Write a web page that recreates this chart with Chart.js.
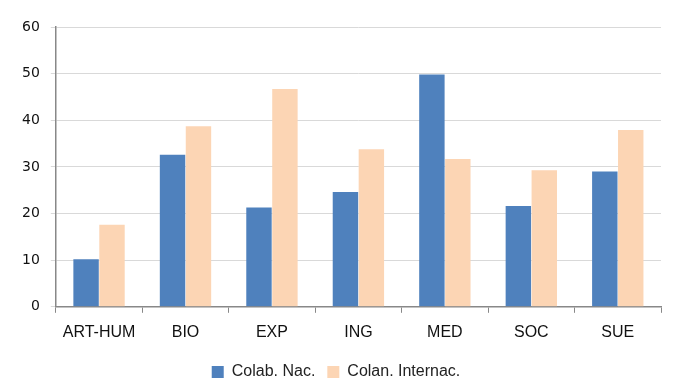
<!DOCTYPE html>
<html>
<head>
<meta charset="utf-8">
<script src="https://cdn.jsdelivr.net/npm/chart.js@4"></script>
<style>
  html, body { margin: 0; padding: 0; background: #fff; }
  #wrap { width: 679px; height: 390px; }
</style>
</head>
<body>
<div id="wrap"><canvas id="grafica"></canvas></div>
<script>
// datos
const areas = ['ART-HUM', 'BIO', 'EXP', 'ING', 'MED', 'SOC', 'SUE'];
const colabNac = [10.2, 32.6, 21.3, 24.6, 49.8, 21.6, 29.0];
const colabInternac = [17.6, 38.7, 46.7, 33.8, 31.7, 29.3, 37.9];
const ticksY = [0, 10, 20, 30, 40, 50, 60];

const ctx = document.getElementById('grafica');
const myChart = new Chart(ctx, {
  type: 'bar',
  data: {
    labels: areas,
    datasets: [{
      label: 'Colab. Nac.',
      data: colabNac,
      backgroundColor: '#4f81bd',
      categoryPercentage: 0.6,
      barPercentage: 0.98
    }, {
      label: 'Colan. Internac.',
      data: colabInternac,
      backgroundColor: '#fcd5b4',
      categoryPercentage: 0.6,
      barPercentage: 0.98
    }]
  },
  options: {
    responsive: true,
    maintainAspectRatio: false,
    animation: false,
    layout: { padding: { left: 11, right: 18, top: 27, bottom: 0 } },
    plugins: {
      tooltip: { enabled: false },
      legend: {
        position: 'bottom',
        labels: {
          boxWidth: 12,
          boxHeight: 12,
          padding: 12,
          color: '#222',
          font: { family: "'Liberation Sans'", size: 16 }
        }
      }
    },
    scales: {
      x: {
        grid: { display: true, drawOnChartArea: false, tickLength: 6, color: '#888', offset: true },
        border: { color: '#888', width: 1.5 },
        ticks: {
          color: '#111',
          padding: 10,
          font: { family: "'Liberation Sans'", size: 16 }
        }
      },
      y: {
        min: 0,
        max: 60,
        afterBuildTicks: function(axis) {
          axis.ticks = ticksY.map(v => ({ value: v }));
        },
        grid: { color: '#d9d9d9', lineWidth: 1, tickLength: 5, drawTicks: true },
        border: { color: '#888', width: 1.5 },
        ticks: {
          color: '#111',
          padding: 11,
          font: { family: "'DejaVu Sans'", size: 14 }
        }
      }
    }
  }
});
</script>
</body>
</html>
